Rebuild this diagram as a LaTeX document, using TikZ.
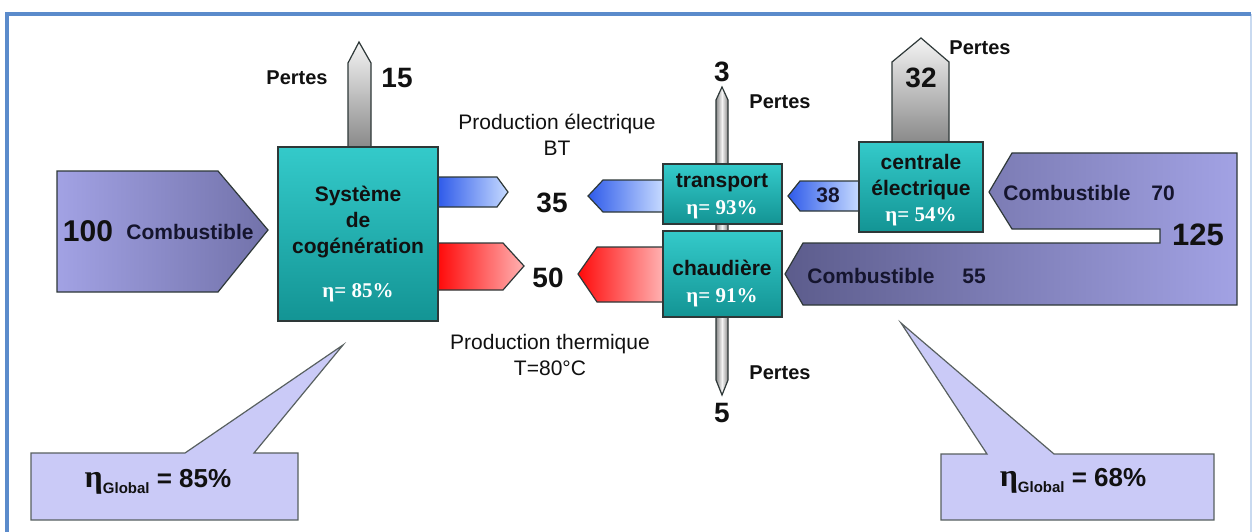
\documentclass[tikz,border=0pt]{standalone}
\usepackage{fontspec}
\setmainfont{Liberation Sans}
\newfontfamily\etafont{Liberation Serif}
\usetikzlibrary{positioning}
\definecolor{framebl}{HTML}{5B8BCB}
\definecolor{framelt}{HTML}{C9DAF0}
\definecolor{tealtop}{HTML}{34CACA}
\definecolor{tealbot}{HTML}{139494}
\definecolor{boxbd}{HTML}{2E3838}
\definecolor{fuellt}{HTML}{A2A2E4}
\definecolor{fuelmd}{HTML}{7272AA}
\definecolor{fueldk}{HTML}{5C5C8C}
\definecolor{elecdk}{HTML}{2F5BEA}
\definecolor{eleclt}{HTML}{C6DAFF}
\definecolor{heatdk}{HTML}{FF0A0A}
\definecolor{heatlt}{HTML}{FFB2B2}
\definecolor{losslt}{HTML}{F4F4F4}
\definecolor{lossdk}{HTML}{8A8A8A}
\definecolor{callbg}{HTML}{CACAF7}
\definecolor{inkdk}{HTML}{111111}
\definecolor{fuelink}{HTML}{15152E}
\tikzset{
  unitbox/.style={draw=boxbd, top color=tealtop, bottom color=tealbot, line width=1.2pt, inner sep=0pt},
  unittxt/.style={font=\fontsize{21}{26}\selectfont\bfseries, text=inkdk, align=center, inner sep=0pt},
  etatxt/.style={font=\etafont\fontsize{21}{24}\selectfont\bfseries, text=white, inner sep=0pt},
  flowtxt/.style={font=\fontsize{21}{26}\selectfont, text=inkdk, align=center, inner sep=0pt},
  bignum/.style={font=\fontsize{28}{30}\selectfont\bfseries, text=inkdk, inner sep=0pt},
  losstxt/.style={font=\fontsize{20}{24}\selectfont\bfseries, text=inkdk, inner sep=0pt},
  fueltxt/.style={font=\fontsize{21}{24}\selectfont\bfseries, text=fuelink, inner sep=0pt},
  calltxt/.style={font=\fontsize{26}{28}\selectfont\bfseries, text=inkdk, inner sep=0pt},
  fuelin/.style={draw=boxbd, line width=1.2pt, left color=fuellt, right color=fuelmd},
  fuelbig/.style={draw=boxbd, line width=1.2pt, left color=fueldk, right color=fuellt},
  elecarr/.style={draw=boxbd, line width=1.2pt, left color=elecdk, right color=eleclt},
  heatarr/.style={draw=boxbd, line width=1.2pt, left color=heatdk, right color=heatlt},
  lossarr/.style={draw=boxbd, line width=1.2pt, top color=losslt, bottom color=lossdk},
  lossthin/.style={draw=boxbd, line width=1.2pt, left color=lossdk, right color=lossdk, middle color=losslt},
  callout/.style={draw=boxbd!80, line width=1.2pt, fill=callbg}
}
\newcommand{\etaglobal}{{\etafont\bfseries\fontsize{32}{32}\selectfont η}{\fontsize{15}{15}\selectfont\raisebox{-6pt}{Global}}}
\begin{document}
\begin{tikzpicture}[x=1pt,y=-1pt]
\useasboundingbox (0,0) rectangle (1253,532);
\fill[white] (0,0) rectangle (1253,532);
\draw[framelt, line width=2pt] (1251,14) -- (1251,560);
\draw[framebl, line width=4pt] (7,560) -- (7,14) -- (1251,14);

\draw[lossarr] (348,147) -- (348,63) -- (359,42) -- (371,63) -- (371,147) -- cycle;
\draw[lossthin] (716,100) -- (722,87) -- (728,100) -- (728,380) -- (722,395) -- (716,380) -- cycle;
\draw[lossarr] (892,142) -- (892,62) -- (921,38) -- (949,62) -- (949,142) -- cycle;

\draw[fuelin] (57,171) -- (218,171) -- (268,230) -- (218,292) -- (57,292) -- cycle;
\draw[fuelbig] (1012,153) -- (1237,153) -- (1237,305) -- (803,305) -- (785,274) -- (803,243)
  -- (1160,243) -- (1160,229) -- (1012,229) -- (989,192) -- cycle;

\draw[elecarr] (438,177) -- (497,177) -- (508,192) -- (497,207) -- (438,207) -- cycle;
\draw[heatarr] (438,243) -- (503,243) -- (524,266) -- (503,290) -- (438,290) -- cycle;
\draw[elecarr] (663,180) -- (603,180) -- (588,196) -- (603,212) -- (663,212) -- cycle;
\draw[heatarr] (663,247) -- (597,247) -- (578,274) -- (597,302) -- (663,302) -- cycle;
\draw[elecarr] (859,181) -- (800,181) -- (788,196) -- (800,211) -- (859,211) -- cycle;

\node[unitbox, minimum width=160pt, minimum height=174pt] (cogen) at (358,234) {};
\node[unitbox, minimum width=119pt, minimum height=60pt] (transp) at (722.5,194) {};
\node[unitbox, minimum width=119pt, minimum height=86pt] (chaud) at (722.5,274) {};
\node[unitbox, minimum width=124pt, minimum height=90pt] (centrale) at (921,187) {};

\draw[callout] (31,453) -- (185,453) -- (343,345) -- (254,453) -- (298,453) -- (298,520) -- (31,520) -- cycle;
\draw[callout] (941,454) -- (987,454) -- (901,323) -- (1054,454) -- (1214,454) -- (1214,520) -- (941,520) -- cycle;

\node[unittxt] (cogentxt) at (358,222) {Système\\de\\cogénération};
\node[etatxt] (cogeneta) at (358,293) {η= 85\%};
\node[unittxt] (transptxt) at (722,183) {transport};
\node[etatxt] (transpeta) at (722,210) {η= 93\%};
\node[unittxt] (chaudtxt) at (722,268) {chaudière};
\node[etatxt] (chaudeta) at (722,298) {η= 91\%};
\node[unittxt] (centraletxt) at (921,177) {centrale\\électrique};
\node[etatxt] (centraleeta) at (921,217) {η= 54\%};

\node[losstxt] (pertesa) at (297,78) {Pertes};
\node[bignum] (lossa) at (397,78) {15};
\node[bignum] (lossb) at (722,72) {3};
\node[losstxt] (pertesb) at (780,102) {Pertes};
\node[losstxt] (pertesc) at (780,373) {Pertes};
\node[bignum] (lossc) at (722,413) {5};
\node[bignum] (lossd) at (921,78) {32};
\node[losstxt] (pertesd) at (980,48) {Pertes};

\node[flowtxt] (electxt) at (557,135) {Production électrique\\BT};
\node[flowtxt] (heattxt) at (550,355) {Production thermique\\T=80°C};
\node[bignum] (elecval) at (552,203) {35};
\node[bignum] (heatval) at (548,278) {50};
\node[fueltxt] (centralein) at (828,195) {38};

\node[bignum, font=\fontsize{30}{32}\selectfont\bfseries] (fuelval) at (88,231) {100};
\node[fueltxt] (fueltxt) at (190,232) {Combustible};
\node[fueltxt] (fuelatxt) at (1067,193) {Combustible};
\node[fueltxt] (fuelaval) at (1163,193) {70};
\node[fueltxt] (fuelbtxt) at (871,276) {Combustible};
\node[fueltxt] (fuelbval) at (974,276) {55};
\node[bignum, font=\fontsize{31}{33}\selectfont\bfseries] (fueltot) at (1198,235) {125};

\node[calltxt] (globala) at (158,482) {\etaglobal{} = 85\%};
\node[calltxt] (globalb) at (1073,481) {\etaglobal{} = 68\%};
\end{tikzpicture}
\end{document}
